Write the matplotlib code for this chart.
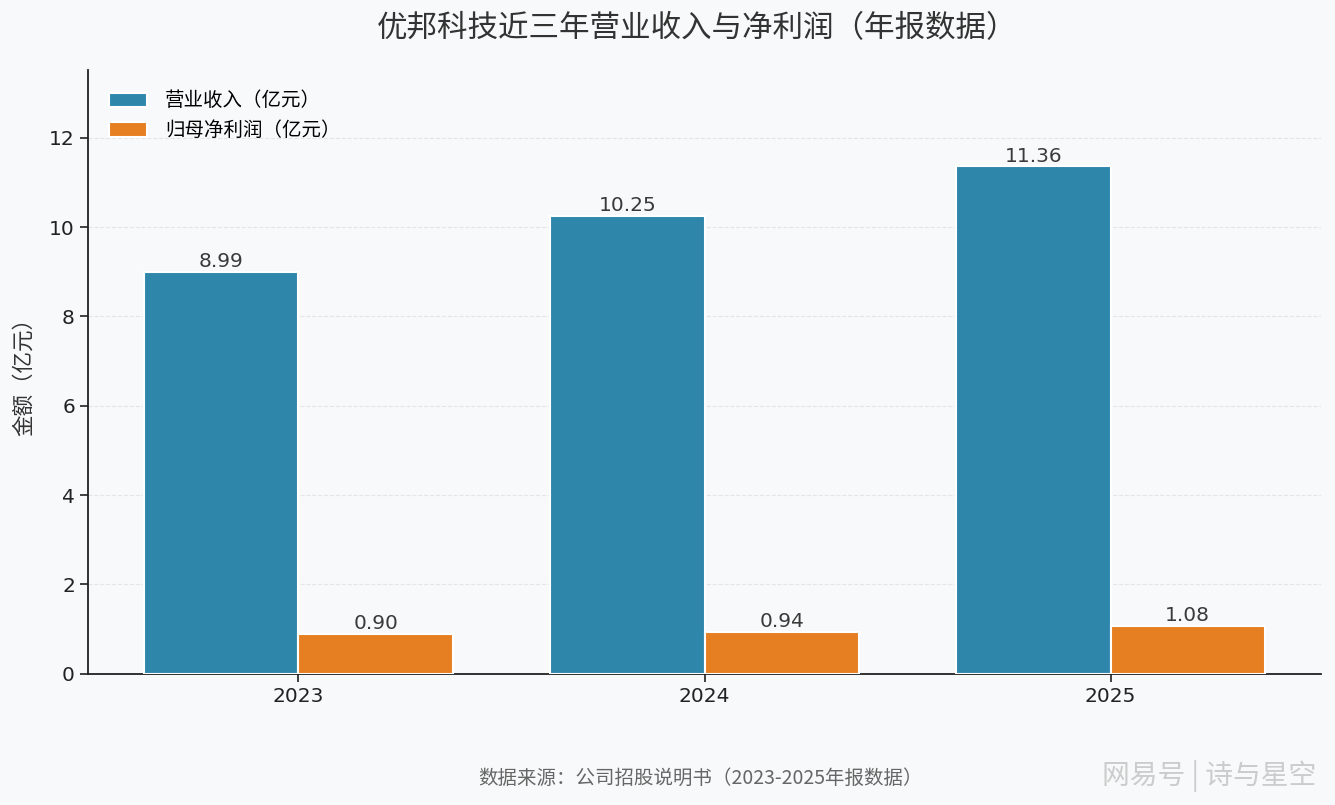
import numpy as np
import matplotlib
matplotlib.use('Agg')
import matplotlib.pyplot as plt

plt.rcParams['font.family'] = ['Noto Sans CJK SC', 'DejaVu Sans']
plt.rcParams['axes.unicode_minus'] = False

# data
years = ['2023', '2024', '2025']
revenue = [8.99, 10.25, 11.36]
net_profit = [0.90, 0.94, 1.08]

bg = '#F8F9FA'
blue = '#2E86AB'
orange = '#E67E22'
num_font = ['DejaVu Sans', 'Noto Sans CJK SC']

fig = plt.figure(figsize=(13.35, 8.05), dpi=100, facecolor=bg)
ax = fig.add_axes([0.066, 0.163, 0.9235, 0.75])
ax.set_facecolor(bg)

x = np.arange(len(years))
w = 0.38
b1 = ax.bar(x - w / 2, revenue, w, color=blue, edgecolor='white', linewidth=1.5,
            label='营业收入（亿元）', zorder=3)
b2 = ax.bar(x + w / 2, net_profit, w, color=orange, edgecolor='white', linewidth=1.5,
            label='归母净利润（亿元）', zorder=3)

# value labels above bars
for bars, vals in ((b1, revenue), (b2, net_profit)):
    for r, v in zip(bars, vals):
        ax.text(r.get_x() + r.get_width() / 2, v + 0.02, f'{v:.2f}',
                ha='center', va='bottom', fontsize=14.5, color='#3a3a3a',
                family=num_font)

ax.set_xticks(x)
ax.set_xticklabels(years, fontsize=14.5, family=num_font)
ax.set_ylim(0, max(revenue) * 1.19)
ax.set_yticks(range(0, 13, 2))
ax.set_yticklabels([str(v) for v in range(0, 13, 2)], fontsize=14.5, family=num_font)
ax.tick_params(length=6, width=1.2, colors='#222222')
ax.set_ylabel('金额（亿元）', fontsize=15.5, color='#333333', labelpad=10)

ax.grid(axis='y', linestyle='--', color='#dddddd', alpha=0.7, zorder=0)
for s in ('top', 'right'):
    ax.spines[s].set_visible(False)
for s in ('left', 'bottom'):
    ax.spines[s].set_linewidth(1.3)
    ax.spines[s].set_color('#222222')

ax.legend(loc='upper left', frameon=False, fontsize=14, handlelength=2.0,
          handleheight=0.75, handletextpad=0.9, borderaxespad=0.65,
          labelspacing=0.45, bbox_to_anchor=(0.0, 1.0))

fig.text(0.522, 0.965, '优邦科技近三年营业收入与净利润（年报数据）',
         ha='center', va='center', fontsize=22, color='#333333')
fig.text(0.525, 0.033, '数据来源：公司招股说明书（2023-2025年报数据）',
         ha='center', va='center', fontsize=14, color='#666666')
fig.text(0.986, 0.036, '网易号 | 诗与星空', ha='right', va='center',
         fontsize=20, color='#cccccc')

fig.savefig('out.png', dpi=100, facecolor=bg)
